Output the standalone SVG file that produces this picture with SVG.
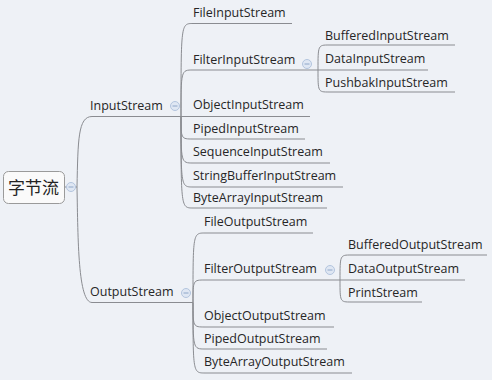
<svg xmlns="http://www.w3.org/2000/svg" width="492" height="380" viewBox="0 0 492 380">
  <style>
    .bg { fill: #eef1f6; }
    .ln { fill: none; stroke: #8a8c91; stroke-width: 1; }
    .t { font-family: "Open Sans", "Noto Sans", sans-serif; font-size: 12.5px; fill: #262626; }
    .root-t { font-family: "Noto Sans CJK SC", sans-serif; font-size: 17px; fill: #222; }
    .box { fill: #fafafa; stroke: #9a9a9a; stroke-width: 1; }
    .btn circle { fill: #dfe7f3; stroke: #b3c5de; stroke-width: 1; }
    .btn line { stroke: #8ea6c8; stroke-width: 1; }
  </style>
  <defs>
    <g id="collapse" class="btn">
      <circle cx="0" cy="0" r="4.5"/>
      <line x1="-2.5" y1="0" x2="2.5" y2="0"/>
    </g>
  </defs>
  <rect class="bg" x="0" y="0" width="492" height="380"/>

  <!-- connectors -->
  <g id="connectors">
    <!-- root to main branches -->
    <path class="ln" d="M64,187 H77"/>
    <path class="ln" d="M77,187 C78,140 78,116.5 92,116.5 H181"/>
    <path class="ln" d="M77,187 C78,240 78,302.5 92,302.5 H193"/>

    <!-- InputStream children -->
    <path class="ln" d="M181,116.5 C181,23.5 181,23.5 193,23.5 H292"/>
    <path class="ln" d="M181,116.5 C181,70 181,70 193,70 H318"/>
    <path class="ln" d="M181,116.5 H310"/>
    <path class="ln" d="M181,116.5 C181,139 181,139 193,139 H305"/>
    <path class="ln" d="M181,116.5 C181,163 181,163 193,163 H330"/>
    <path class="ln" d="M181,116.5 C181,187 181,187 193,187 H343"/>
    <path class="ln" d="M181,116.5 C181,208 181,208 193,208 H327"/>

    <!-- FilterInputStream children -->
    <path class="ln" d="M318,70 C318,45 318,45 329,45 H455"/>
    <path class="ln" d="M318,70 H428"/>
    <path class="ln" d="M318,70 C318,92 318,92 329,92 H455"/>

    <!-- OutputStream children -->
    <path class="ln" d="M193,302.5 C193,233 193,233 205,233 H313"/>
    <path class="ln" d="M193,302.5 C193,280 193,280 205,280 H340"/>
    <path class="ln" d="M193,302.5 C193,327 193,327 205,327 H334"/>
    <path class="ln" d="M193,302.5 C193,349 193,349 205,349 H327"/>
    <path class="ln" d="M193,302.5 C193,373 193,373 205,373 H352"/>

    <!-- FilterOutputStream children -->
    <path class="ln" d="M340,280 C340,255 340,255 351,255 H487"/>
    <path class="ln" d="M340,280 H465"/>
    <path class="ln" d="M340,280 C340,302 340,302 351,302 H422"/>
  </g>

  <!-- root -->
  <g id="root">
    <rect class="box" x="3.5" y="171.5" width="61" height="32" rx="5"/>
    <text class="root-t" x="33.5" y="193.5" text-anchor="middle">字节流</text>
    <use href="#collapse" x="71" y="187"/>
  </g>

  <g id="inputstream">
    <text class="t" x="90" y="110">InputStream</text>
    <use href="#collapse" x="175" y="106"/>
  </g>
  <g id="fileinputstream"><text class="t" x="193" y="17">FileInputStream</text></g>
  <g id="filterinputstream">
    <text class="t" x="193" y="64">FilterInputStream</text>
    <use href="#collapse" x="307" y="64"/>
  </g>
  <g id="bufferedinputstream"><text class="t" x="325" y="40">BufferedInputStream</text></g>
  <g id="datainputstream"><text class="t" x="325" y="63">DataInputStream</text></g>
  <g id="pushbakinputstream"><text class="t" x="325" y="87">PushbakInputStream</text></g>
  <g id="objectinputstream"><text class="t" x="193" y="109">ObjectInputStream</text></g>
  <g id="pipedinputstream"><text class="t" x="193" y="133">PipedInputStream</text></g>
  <g id="sequenceinputstream"><text class="t" x="193" y="156">SequenceInputStream</text></g>
  <g id="stringbufferinputstream"><text class="t" x="193" y="180">StringBufferInputStream</text></g>
  <g id="bytearrayinputstream"><text class="t" x="193" y="202">ByteArrayInputStream</text></g>

  <g id="outputstream">
    <text class="t" x="90" y="296">OutputStream</text>
    <use href="#collapse" x="186" y="293"/>
  </g>
  <g id="fileoutputstream"><text class="t" x="204" y="226">FileOutputStream</text></g>
  <g id="filteroutputstream">
    <text class="t" x="204" y="273">FilterOutputStream</text>
    <use href="#collapse" x="330" y="270"/>
  </g>
  <g id="bufferedoutputstream"><text class="t" x="348" y="249">BufferedOutputStream</text></g>
  <g id="dataoutputstream"><text class="t" x="348" y="273">DataOutputStream</text></g>
  <g id="printstream"><text class="t" x="348" y="297">PrintStream</text></g>
  <g id="objectoutputstream"><text class="t" x="204" y="320">ObjectOutputStream</text></g>
  <g id="pipedoutputstream"><text class="t" x="204" y="343">PipedOutputStream</text></g>
  <g id="bytearrayoutputstream"><text class="t" x="204" y="366">ByteArrayOutputStream</text></g>
</svg>
